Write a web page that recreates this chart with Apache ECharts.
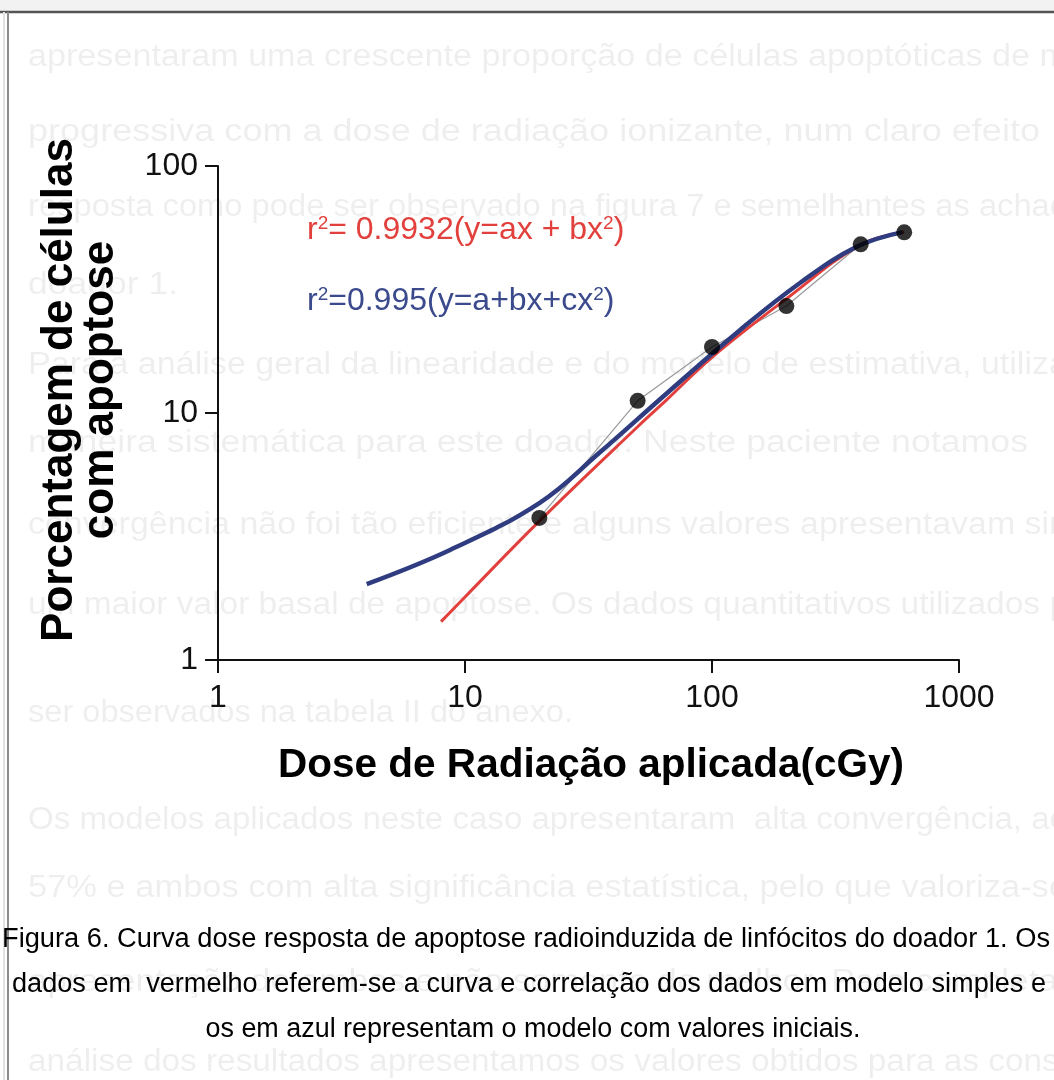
<!DOCTYPE html>
<html><head><meta charset="utf-8">
<script src="https://cdn.jsdelivr.net/npm/echarts@6/dist/echarts.min.js"></script>
<style>html,body{margin:0;padding:0;background:#fff}#c{width:1054px;height:1080px}</style>
</head><body><div id="c"></div>
<script>
// Measured data points (dose in cGy, % apoptotic cells)
const doses = [20, 50, 100, 200, 400, 600];
const apoptosis = [3.76, 11.2, 18.5, 27.1, 48.2, 53.9];
// Red fit curve (y = ax + bx^2)
const redFitX = [8, 10, 20, 50, 65.5, 100, 200, 400, 600];
const redFitY = [1.43, 1.80, 3.65, 8.8, 11.3, 16.8, 29.0, 48.0, 54.0];
// Blue fit curve (y = a + bx + cx^2)
const blueFitX = [4, 8.7, 20, 35, 65.5, 130, 227, 385, 590];
const blueFitY = [2.03, 2.79, 4.32, 6.9, 12.0, 21.7, 33.6, 47.1, 54.0];
// Axis ranges / tick labels
const xRange = [1, 1000];
const yRange = [1, 100];
const tickLabels = {1:'1', 10:'10', 100:'100', 1000:'1000'};

const captionLines = [
  'Figura 6. Curva dose resposta de apoptose radioinduzida de linfócitos do doador 1. Os',
  'dados em  vermelho referem-se a curva e correlação dos dados em modelo simples e',
  'os em azul representam o modelo com valores iniciais.'
];
const bleedLines = [
  'apresentaram uma crescente proporção de células apoptóticas de m',
  'progressiva com a dose de radiação ionizante, num claro efeito',
  'resposta como pode ser observado na figura 7 e semelhantes as achad',
  'doador 1.',
  'Para a análise geral da linearidade e do modelo de estimativa, utiliza',
  'maneira sistemática para este doador. Neste paciente notamos',
  'convergência não foi tão eficiente e alguns valores apresentavam sin',
  'um maior valor basal de apoptose. Os dados quantitativos utilizados p',
  'ser observados na tabela II do anexo.',
  'Os modelos aplicados neste caso apresentaram  alta convergência, ao',
  '57% e ambos com alta significância estatística, pelo que valoriza-se',
  'apresentação de ambos e não somente do melhor. Para completa',
  'análise dos resultados apresentamos os valores obtidos para as const'
];
const bleedY = [57, 132, 207, 285, 365, 443, 525, 605, 713, 820, 888, 982, 1062];
const bleedW = [1040, 1012, 1040, 150, 1040, 1000, 1040, 1040, 545, 1040, 1040, 1030, 1040];

const FF = "'Liberation Sans', Arial, Helvetica, sans-serif";
const ctx = document.createElement('canvas').getContext('2d');
function fitScale(text, font, w) { ctx.font = font; return w / ctx.measureText(text).width; }

const zip = (xs, ys) => xs.map((x, i) => [x, ys[i]]);

const graphics = [];
// page frame
graphics.push({type:'rect', shape:{x:0,y:0,width:1054,height:11}, style:{fill:'#f2f2f2'}, silent:true, z:0});
graphics.push({type:'line', shape:{x1:0,y1:12,x2:1054,y2:12}, style:{stroke:'#555',lineWidth:2.5}, silent:true, z:1});
graphics.push({type:'line', shape:{x1:8,y1:12,x2:8,y2:1080}, style:{stroke:'#8c8c8c',lineWidth:2}, silent:true, z:1});
graphics.push({type:'line', shape:{x1:4,y1:12,x2:4,y2:1080}, style:{stroke:'#e2e2e2',lineWidth:2}, silent:true, z:1});
// bleed-through text of the scanned page
const bf = '31px ' + FF;
bleedLines.forEach((t, i) => {
  graphics.push({type:'text', x:28, y:bleedY[i], silent:true, z:0, scaleX: fitScale(t, bf, bleedW[i]),
    style:{text:t, font:bf, fill:'rgba(0,0,0,0.065)', textAlign:'left', textVerticalAlign:'middle'}});
});
// fit labels
graphics.push({type:'text', x:307, y:230, z:10,
  style:{text:'r{s|2}= 0.9932(y=ax + bx{s|2})', fill:'#e2403c', font:'32px ' + FF, textVerticalAlign:'middle',
    rich:{s:{fontSize:19, fill:'#e2403c', fontFamily:FF, verticalAlign:'top', lineHeight:19}}}});
graphics.push({type:'text', x:307, y:301, z:10,
  style:{text:'r{s|2}=0.995(y=a+bx+cx{s|2})', fill:'#3a4a8c', font:'32px ' + FF, textVerticalAlign:'middle',
    rich:{s:{fontSize:19, fill:'#3a4a8c', fontFamily:FF, verticalAlign:'top', lineHeight:19}}}});
// axis titles
const xt = 'Dose de Radiação aplicada(cGy)', xtf = 'bold 40px ' + FF;
graphics.push({type:'text', x:591, y:766, z:10, scaleX: fitScale(xt, xtf, 626),
  style:{text:xt, font:xtf, fill:'#000', textAlign:'center', textVerticalAlign:'middle'}});
const yt1 = 'Porcentagem de células', yt2 = 'com apoptose', ytf = 'bold 44px ' + FF;
graphics.push({type:'text', x:60, y:390, rotation:Math.PI/2, z:10,
  style:{text:yt1, font:ytf, fill:'#000', textAlign:'center', textVerticalAlign:'middle'}});
graphics.push({type:'text', x:101, y:390, rotation:Math.PI/2, z:10,
  style:{text:yt2, font:ytf, fill:'#000', textAlign:'center', textVerticalAlign:'middle'}});
// caption
const cf = '27px ' + FF;
const capX = [526, 529, 533], capW = [1048, 1034, 655], capY = [940, 985, 1030];
captionLines.forEach((t, i) => {
  graphics.push({type:'text', x:capX[i], y:capY[i], z:10, scaleX: fitScale(t, cf, capW[i]),
    style:{text:t, font:cf, fill:'#000', textAlign:'center', textVerticalAlign:'middle'}});
});

const axisCommon = {
  type:'log', logBase:10,
  axisLine:{show:true, lineStyle:{color:'#111', width:2}},
  axisTick:{show:true, inside:false, length:13, lineStyle:{color:'#111', width:2}},
  minorTick:{show:false}, splitLine:{show:false},
  axisLabel:{color:'#111', fontSize:32, fontFamily:FF, formatter:(v) => tickLabels[Math.round(v)] || ''}
};

const chart = echarts.init(document.getElementById('c'), null, {renderer:'canvas'});
chart.setOption({
  animation:false,
  backgroundColor:'#fff',
  grid:{left:218, right:95, top:166, bottom:420, containLabel:false},
  xAxis:Object.assign({}, axisCommon, {min:xRange[0], max:xRange[1],
    axisLabel:Object.assign({}, axisCommon.axisLabel, {margin:22})}),
  yAxis:Object.assign({}, axisCommon, {min:yRange[0], max:yRange[1],
    axisLabel:Object.assign({}, axisCommon.axisLabel, {margin:20})}),
  graphic:graphics,
  series:[
    {type:'line', data:zip(doses, apoptosis), symbol:'none', lineStyle:{color:'#9a9a9a', width:1.2}, z:2},
    {type:'line', data:zip(redFitX, redFitY), smooth:0.4, symbol:'none', lineStyle:{color:'#e2403c', width:3}, z:3},
    {type:'line', data:zip(blueFitX, blueFitY), smooth:0.4, symbol:'none', lineStyle:{color:'#2f3d80', width:4.5}, z:4},
    {type:'scatter', data:zip(doses, apoptosis), symbol:'circle', symbolSize:16, itemStyle:{color:'#000'}, z:5}
  ]
});
</script>
</body></html>
